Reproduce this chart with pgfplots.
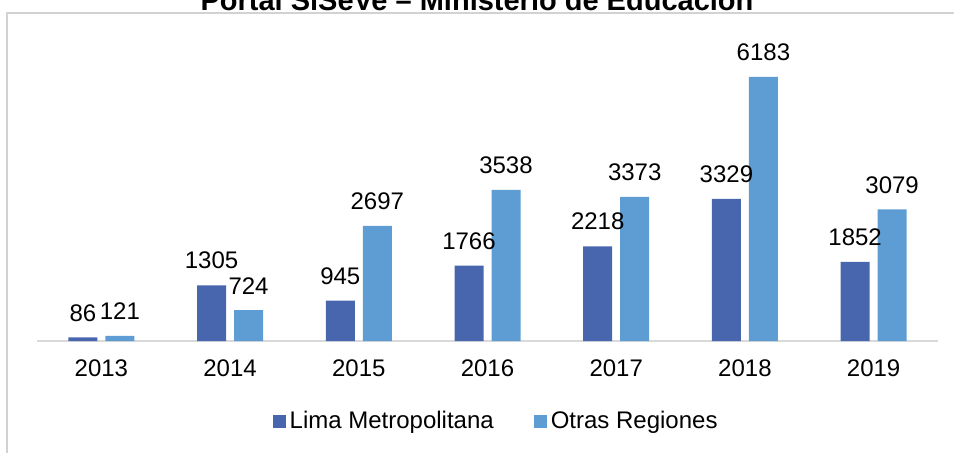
\documentclass[border=0pt]{standalone}
\usepackage{fontspec}
\setmainfont{Liberation Sans}
\usepackage{pgfplots}
\pgfplotsset{compat=1.18}
\definecolor{LimaBlue}{RGB}{72,102,173}
\definecolor{OtrasBlue}{RGB}{94,157,211}
\definecolor{FrameGray}{RGB}{210,210,210}
\definecolor{AxisGray}{RGB}{217,217,217}

\begin{document}
\begin{tikzpicture}[x=1pt,y=1pt]
\useasboundingbox (0,0) rectangle (477,226);
\clip (0,0) rectangle (477,226);
% chart frame (top part of title is cut off in the reference)
\draw[FrameGray, line width=0.7pt] (3.5,-5) rectangle (490,219.5);
\node[font=\fontsize{14.5}{16}\selectfont\bfseries, anchor=base, inner sep=0pt]
  at (238.5,220.8) {Portal SíSeVe – Ministerio de Educación};
\begin{axis}[
  at={(18.5pt,55.5pt)}, anchor=south west,
  scale only axis,
  width=450.5pt, height=149.5pt,
  ybar=4pt, bar width=14.5pt,
  ymin=0, ymax=7000,
  xmin=-0.5, xmax=6.5,
  axis x line*=bottom,
  axis y line=none,
  x axis line style={draw=AxisGray, line width=0.9pt, -},
  xtick={0,1,2,3,4,5,6},
  xticklabels={2013,2014,2015,2016,2017,2018,2019},
  major tick length=0pt,
  xticklabel style={font=\fontsize{12}{14}\selectfont, yshift=-6pt},
  /pgf/number format/assume math mode=true,
  /pgf/number format/1000 sep={},
  nodes near coords,
  nodes near coords style={font=\fontsize{12}{14}\selectfont, yshift=4.5pt},
  clip=false,
  legend columns=2,
  legend style={at={(0.5107,-0.2676)}, anchor=center, draw=none, fill=none,
    font=\fontsize{12}{14}\selectfont,
    /tikz/every even column/.append style={column sep=18pt}},
  legend image code/.code={\fill[#1] (-1.5pt,-3.25pt) rectangle (5pt,3.25pt);},
]
\addplot[fill=LimaBlue, draw=none] coordinates {
  (0,86) (1,1305) (2,945) (3,1766) (4,2218) (5,3329) (6,1852)};
\addplot[fill=OtrasBlue, draw=none] coordinates {
  (0,121) (1,724) (2,2697) (3,3538) (4,3373) (5,6183) (6,3079)};
\legend{Lima Metropolitana, Otras Regiones}
\end{axis}
\end{tikzpicture}
\end{document}
